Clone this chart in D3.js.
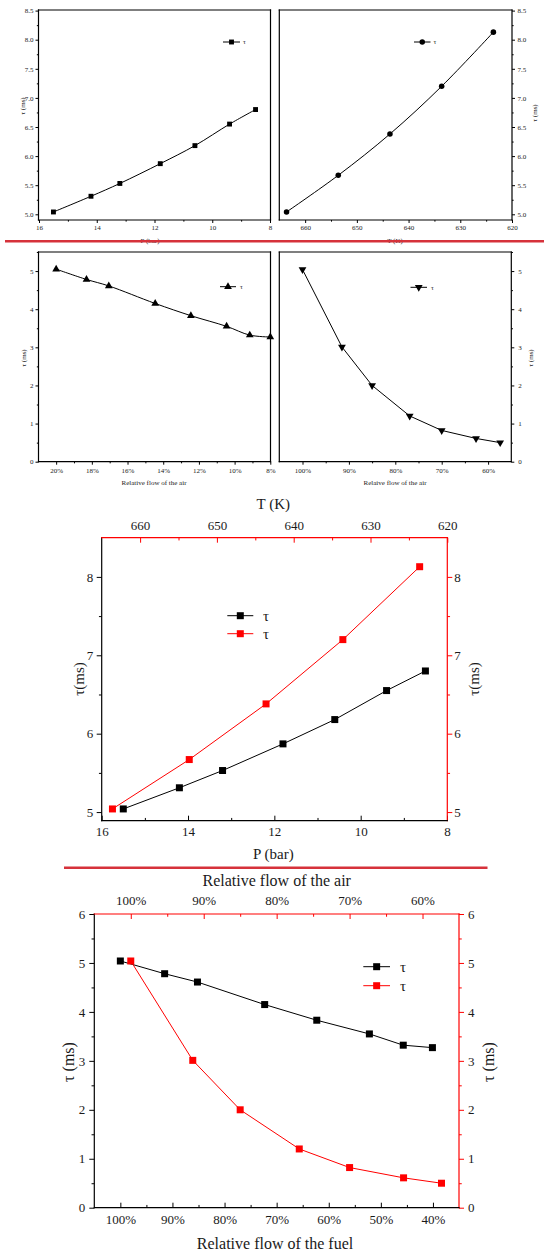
<!DOCTYPE html>
<html>
<head>
<meta charset="utf-8">
<script src="https://cdn.jsdelivr.net/npm/d3@7/dist/d3.min.js"></script>
<style>
	body { margin: 0; background: #fff; }
	svg { display: block; font-family: 'Liberation Serif', 'Times New Roman', serif; }
</style>
</head>
<body>
<script>

	// values
	var pressure = [15.5, 14.2, 13.2, 11.8, 10.6, 9.4, 8.5];            // bar
	var tau_pressure = [5.04, 5.31, 5.53, 5.87, 6.18, 6.55, 6.80];       // ms
	var temperature = [663.6, 653.6, 643.6, 633.6, 623.6];               // K
	var tau_temperature = [5.04, 5.67, 6.38, 7.20, 8.13];
	var air_small = [20, 18.3, 17.05, 14.45, 12.45, 10.45, 9.15, 8.0];   // % (2nd row, left)
	var tau_air_small = [5.05, 4.78, 4.61, 4.15, 3.83, 3.55, 3.32, 3.27];
	var air_flow = [100, 91.5, 85.0, 76.9, 70.0, 62.6, 57.4];            // %
	var tau_air = [5.04, 3.01, 2.0, 1.2, 0.82, 0.61, 0.50];
	var fuel_flow = [100, 91.5, 85.2, 72.3, 62.3, 52.2, 45.7, 40.1];      // %
	var tau_fuel = [5.04, 4.78, 4.61, 4.15, 3.83, 3.55, 3.32, 3.27];

	// tick labels
	var ticks_p = [16, 14, 12, 10, 8], minor_p = [15, 13, 11, 9];
	var ticks_t = [660, 650, 640, 630, 620], minor_t = [655, 645, 635, 625];
	var ticks_tau_small = [5.0, 5.5, 6.0, 6.5, 7.0, 7.5, 8.0, 8.5];
	var minor_tau_small = [5.25, 5.75, 6.25, 6.75, 7.25, 7.75, 8.25];
	var ticks_air_small = [20, 18, 16, 14, 12, 10, 8], minor_air_small = [19, 17, 15, 13, 11, 9];
	var ticks_tau_05 = [0, 1, 2, 3, 4, 5], minor_tau_05 = [0.5, 1.5, 2.5, 3.5, 4.5, 5.5];
	var ticks_air = [100, 90, 80, 70, 60], minor_air = [95, 85, 75, 65];
	var ticks_tau_big = [5, 6, 7, 8], minor_tau_big = [5.5, 6.5, 7.5];
	var ticks_tau_06 = [0, 1, 2, 3, 4, 5, 6], minor_tau_06 = [0.5, 1.5, 2.5, 3.5, 4.5, 5.5];
	var ticks_fuel = [100, 90, 80, 70, 60, 50, 40], minor_fuel = [95, 85, 75, 65, 55, 45];

	var W = 544, H = 1251;
	var svg = d3.select("body").append("svg").attr("width", W).attr("height", H);

	var pct = function (d) { return d + "%"; };
	var fix1 = d3.format(".1f");
	var int = d3.format("d");

	function axis(o) {
		var mk = { left: d3.axisLeft, right: d3.axisRight, top: d3.axisTop, bottom: d3.axisBottom }[o.orient];
		var s = o.dir == "in" ? -1 : 1;
		var g = svg.append("g").attr("transform", "translate(" + o.tx + "," + o.ty + ")");
		g.call(mk(o.scale).tickValues(o.major).tickFormat(o.fmt)
			.tickSizeInner(s * o.len).tickSizeOuter(0).tickPadding(o.pad));
		if (o.minor) {
			g.append("g").call(mk(o.scale).tickValues(o.minor).tickFormat("")
				.tickSizeInner(s * o.len * 0.55).tickSizeOuter(0));
		}
		g.selectAll(".domain").remove();
		g.attr("font-family", null).attr("font-size", o.fs);
		g.selectAll("line").attr("stroke", o.color || "#000");
		g.selectAll("text").attr("fill", "#1a1a1a");
	}

	function series(xs, ys, x, y, color, sym, size, curve, rot) {
		var pts = xs.map(function (v, i) { return [x(v), y(ys[i])]; });
		svg.append("path")
			.attr("d", d3.line().curve(curve || d3.curveLinear)(pts))
			.attr("fill", "none").attr("stroke", color).attr("stroke-width", 1);
		svg.selectAll(null).data(pts).enter().append("path")
			.attr("transform", function (d) { return "translate(" + d + ")" + (rot ? " rotate(180)" : ""); })
			.attr("d", d3.symbol(sym, size)())
			.attr("fill", color);
	}

	function legend(x0, x1, y, tx, color, sym, size, fs, rot) {
		svg.append("line").attr("x1", x0).attr("x2", x1).attr("y1", y).attr("y2", y)
			.attr("stroke", color).attr("stroke-width", 1);
		svg.append("path")
			.attr("transform", "translate(" + ((x0 + x1) / 2) + "," + y + ")" + (rot ? " rotate(180)" : ""))
			.attr("d", d3.symbol(sym, size)()).attr("fill", color);
		svg.append("text").attr("x", tx).attr("y", y).attr("dy", "0.35em")
			.attr("font-size", fs).attr("fill", "#1a1a1a").text("τ");
	}

	function label(txt, x, y, fs, rotate) {
		svg.append("text")
			.attr("transform", "translate(" + x + "," + y + ")" + (rotate ? " rotate(-90)" : ""))
			.attr("text-anchor", "middle").attr("dy", "0.35em")
			.attr("font-size", fs).attr("fill", "#1a1a1a").text(txt);
	}

	function frame(f, colors) {
		// colors: left, right, top, bottom
		var c = colors || ["#000", "#000", "#000", "#000"];
		var sides = [[f.x0, f.y0, f.x0, f.y1], [f.x1, f.y0, f.x1, f.y1], [f.x0, f.y0, f.x1, f.y0], [f.x0, f.y1, f.x1, f.y1]];
		sides.forEach(function (s, i) {
			svg.append("line").attr("x1", s[0]).attr("y1", s[1]).attr("x2", s[2]).attr("y2", s[3])
				.attr("stroke", c[i]).attr("stroke-width", 1.2).attr("stroke-linecap", "square");
		});
	}

	var FS = 7;

	// ---- panel A: tau vs P
	var fa = { x0: 38.5, x1: 270.5, y0: 10, y1: 220 };
	var xa = d3.scaleLinear().domain([16, 8]).range([39, 270]);
	var ya = d3.scaleLinear().domain([5, 8.5]).range([214.3, 10.6]);
	axis({ orient: "left", scale: ya, tx: fa.x0, ty: 0, major: ticks_tau_small, minor: minor_tau_small, fmt: fix1, len: 3, pad: 2, fs: FS });
	axis({ orient: "bottom", scale: xa, tx: 0, ty: fa.y1, major: ticks_p, minor: minor_p, fmt: int, len: 3, pad: 2, fs: FS });
	frame(fa);
	series(pressure, tau_pressure, xa, ya, "#000", d3.symbolSquare, 24, d3.curveCatmullRom);
	legend(223, 240, 42, 243, "#000", d3.symbolSquare, 24, FS);
	label("τ (ms)", 23, 106, FS, true);
	label("P (bar)", 150, 241, FS);

	// ---- panel B: tau vs T
	var fb = { x0: 279.3, x1: 512, y0: 10, y1: 220 };
	var xb = d3.scaleLinear().domain([665, 620]).range([279.3, 512]);
	axis({ orient: "right", scale: ya, tx: fb.x1, ty: 0, major: ticks_tau_small, minor: minor_tau_small, fmt: fix1, len: 3, pad: 2.5, fs: FS });
	axis({ orient: "bottom", scale: xb, tx: 0, ty: fb.y1, major: ticks_t, minor: minor_t, fmt: int, len: 3, pad: 2, fs: FS });
	frame(fb);
	series(temperature, tau_temperature, xb, ya, "#000", d3.symbolCircle, 24, d3.curveCatmullRom);
	legend(414, 430.5, 42, 433.5, "#000", d3.symbolCircle, 24, FS);
	label("τ (ms)", 535, 113, FS, true);
	label("T (K)", 395, 241, FS);

	// separator
	svg.append("line").attr("x1", 5).attr("x2", 544).attr("y1", 241.3).attr("y2", 241.3)
		.attr("stroke", "#d6323b").attr("stroke-width", 2.5);

	// ---- panel C: tau vs relative air flow (small)
	var fc = { x0: 38.5, x1: 270.5, y0: 252, y1: 461.7 };
	var xc = d3.scaleLinear().domain([21, 8]).range([38.3, 270.3]);
	var yc = d3.scaleLinear().domain([0, 5.5]).range([461.7, 252]);
	axis({ orient: "left", scale: yc, tx: fc.x0, ty: 0, major: ticks_tau_05, minor: minor_tau_05, fmt: int, len: 3, pad: 2, fs: FS });
	axis({ orient: "bottom", scale: xc, tx: 0, ty: fc.y1, major: ticks_air_small, minor: minor_air_small, fmt: pct, len: 3, pad: 3, fs: FS });
	frame(fc);
	series(air_small, tau_air_small, xc, yc, "#000", d3.symbolTriangle, 26, d3.curveCatmullRom);
	legend(220, 236, 286.7, 240, "#000", d3.symbolTriangle, 26, FS);
	label("τ (ms)", 23.5, 358, FS, true);
	label("Relative flow of the air", 154, 483, FS);

	// ---- panel D: tau vs relative air flow
	var fd = { x0: 279.3, x1: 511.3, y0: 252, y1: 461.7 };
	var xd = d3.scaleLinear().domain([105, 55]).range([279.3, 511.3]);
	axis({ orient: "right", scale: yc, tx: fd.x1, ty: 0, major: ticks_tau_05, minor: minor_tau_05, fmt: int, len: 3, pad: 4, fs: FS });
	axis({ orient: "bottom", scale: xd, tx: 0, ty: fd.y1, major: ticks_air, minor: minor_air, fmt: pct, len: 3, pad: 3, fs: FS });
	frame(fd);
	series(air_flow, tau_air, xd, yc, "#000", d3.symbolTriangle, 26, null, true);
	legend(410.5, 427, 287.3, 431, "#000", d3.symbolTriangle, 26, FS, true);
	label("τ (ms)", 530.5, 358, FS, true);
	label("Relaive flow of the air", 395, 483, FS);

	// ---- panel E: pressure (bottom) and temperature (top)
	var fe = { x0: 101.7, x1: 447.3, y0: 537.7, y1: 820.7 };
	var xe = d3.scaleLinear().domain([16, 8]).range([101.7, 447]);
	var xe_t = d3.scaleLinear().domain([665, 620]).range([101.7, 447.3]);
	var ye = d3.scaleLinear().domain([4.89, 8.5]).range([820.7, 537.7]);
	var RED = "#ff0000";
	axis({ orient: "left", scale: ye, tx: fe.x0, ty: 0, major: ticks_tau_big, minor: minor_tau_big, fmt: int, len: 5, pad: 3.5, fs: 13 });
	axis({ orient: "right", scale: ye, tx: fe.x1, ty: 0, major: ticks_tau_big, minor: minor_tau_big, fmt: int, len: 5, pad: 2, fs: 13, color: RED });
	axis({ orient: "bottom", scale: xe, tx: 0, ty: fe.y1, major: ticks_p, minor: minor_p, fmt: int, dir: "in", len: 5, pad: 6, fs: 13 });
	axis({ orient: "top", scale: xe_t, tx: 0, ty: fe.y0, major: ticks_t, minor: minor_t, fmt: int, dir: "in", len: 5, pad: 8, fs: 13, color: RED });
	frame(fe, ["#000", RED, RED, "#000"]);
	series(pressure, tau_pressure, xe, ye, "#000", d3.symbolSquare, 49);
	series(temperature, tau_temperature, xe_t, ye, RED, d3.symbolSquare, 49);
	legend(227.3, 253.3, 615.7, 263, "#000", d3.symbolSquare, 49, 15);
	legend(227.3, 253.3, 633.7, 263, RED, d3.symbolSquare, 49, 15);
	label("T (K)", 273.3, 504, 15);
	label("P (bar)", 273.3, 854, 15);
	label("τ(ms)", 78.5, 679, 15, true);
	label("τ(ms)", 474, 679, 15, true);

	// separator
	svg.append("line").attr("x1", 64).attr("x2", 487.5).attr("y1", 867.8).attr("y2", 867.8)
		.attr("stroke", "#d6323b").attr("stroke-width", 2.5);

	// ---- panel F: fuel flow (bottom) and air flow (top)
	var ff = { x0: 94.3, x1: 459, y0: 914, y1: 1207.7 };
	var xf = d3.scaleLinear().domain([105, 35]).range([94.3, 459]);
	var xf_air = d3.scaleLinear().domain([105, 55]).range([94.3, 459]);
	var yf = d3.scaleLinear().domain([0, 6]).range([1207.7, 914]);
	axis({ orient: "left", scale: yf, tx: ff.x0, ty: 0, major: ticks_tau_06, minor: minor_tau_06, fmt: int, len: 5, pad: 4, fs: 13 });
	axis({ orient: "right", scale: yf, tx: ff.x1, ty: 0, major: ticks_tau_06, minor: minor_tau_06, fmt: int, len: 5, pad: 4, fs: 13, color: RED });
	axis({ orient: "bottom", scale: xf, tx: 0, ty: ff.y1, major: ticks_fuel, minor: minor_fuel, fmt: pct, dir: "in", len: 5, pad: 7.5, fs: 13 });
	axis({ orient: "top", scale: xf_air, tx: 0, ty: ff.y0, major: ticks_air, minor: minor_air, fmt: pct, dir: "in", len: 5, pad: 9, fs: 13, color: RED });
	frame(ff, ["#000", RED, RED, "#000"]);
	series(fuel_flow, tau_fuel, xf, yf, "#000", d3.symbolSquare, 49);
	series(air_flow, tau_air, xf_air, yf, RED, d3.symbolSquare, 49);
	legend(363.3, 390, 966.7, 400, "#000", d3.symbolSquare, 49, 15);
	legend(363.3, 390, 985.7, 400, RED, d3.symbolSquare, 49, 15);
	label("Relative flow of the air", 276.7, 880.5, 16);
	label("Relative flow of the fuel", 275, 1243, 16);
	label("τ (ms)", 68, 1062, 16, true);
	label("τ (ms)", 488, 1062, 16, true);

</script>
</body>
</html>
